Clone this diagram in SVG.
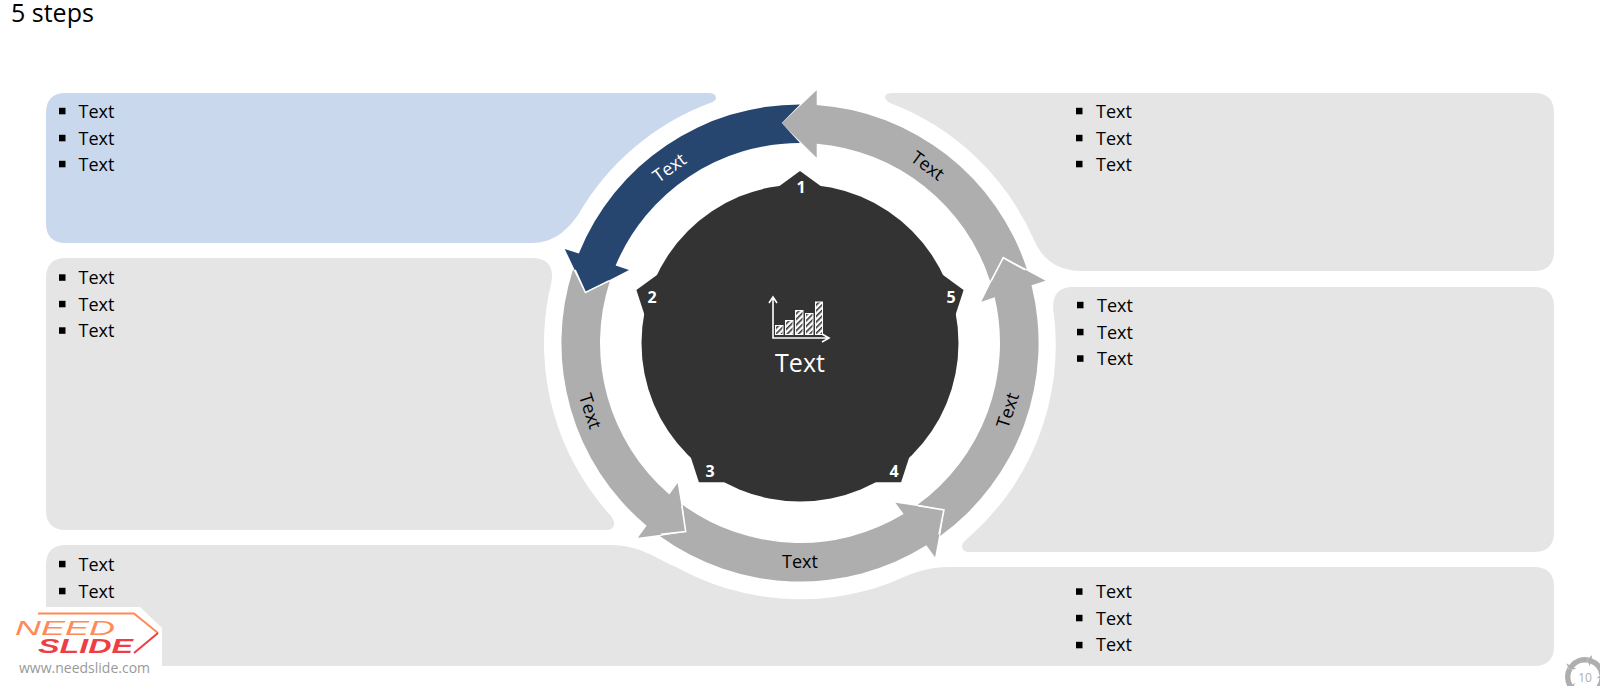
<svg xmlns="http://www.w3.org/2000/svg" xmlns:xlink="http://www.w3.org/1999/xlink" width="1600" height="686" viewBox="0 0 1600 686">
<style>
text{font-family:"Open Sans","Noto Sans","Liberation Sans",sans-serif}
.p{fill:#e5e5e5}
.b{font-size:18px;fill:#000}
.a{fill:#aeaeae}
.e{fill:none;stroke:#fff;stroke-width:1.6}
.l{font-size:18px;fill:#000;text-anchor:middle;dominant-baseline:central}
.n{font-size:16px;font-weight:700;fill:#fff;text-anchor:middle;dominant-baseline:central}
</style>
<defs>
<path id="arrow" d="M781.7,123.3 L816.7,90.2 V105 A238.6,238.6 0 0 1 1026.9,269.3 L1003.6,257.6 L990.2,281.2 A200,200 0 0 0 816.7,143.7 V157.8 Z"/>
<path id="edge" d="M800,106.5 L781.7,123.3 L800,142"/>
<path id="small" d="M-1.8,-17.2 L2.5,-23 V-19.8 A20,20 0 0 1 19,-6.2 L15.8,-7 L13.8,-4.5 A14.5,14.5 0 0 0 2.5,-14.3 V-11.5 Z"/>
<rect id="bu" x="0" y="-3.2" width="6.5" height="6.5" fill="#000"/>
<pattern id="h" width="4" height="4" patternUnits="userSpaceOnUse" patternTransform="rotate(45)">
<rect width="4" height="4" fill="#fff"/><rect width="1.6" height="4" fill="#333"/>
</pattern>
</defs>
<rect width="1600" height="686" fill="#fff"/>
<text x="11" y="22" font-size="25" fill="#000">5 steps</text>

<g id="panel-1">
<path d="M66,93 H708 Q716,93 716,98 Q716,101 710,103 A256,256 0 0 0 578,215 C566,232 552,243 532,243 H66 Q46,243 46,223 V113 Q46,93 66,93 Z" fill="#c9d8ec"/>
<use xlink:href="#bu" href="#bu" x="59" y="111"/><use xlink:href="#bu" href="#bu" x="59" y="138"/><use xlink:href="#bu" href="#bu" x="59" y="164"/>
<text class="b" x="78.5" y="117.5">Text</text><text class="b" x="78.5" y="144.5">Text</text><text class="b" x="78.5" y="170.5">Text</text>
</g>
<g id="panel-2">
<path class="p" d="M66,258 H532 Q553,258 552,278 Q551,285 549,293 A256,256 0 0 0 611,516 Q615,522 614,525 Q613,530 606,530 H66 Q46,530 46,510 V278 Q46,258 66,258 Z"/>
<use xlink:href="#bu" href="#bu" x="59" y="277.5"/><use xlink:href="#bu" href="#bu" x="59" y="304"/><use xlink:href="#bu" href="#bu" x="59" y="330.5"/>
<text class="b" x="78.5" y="284">Text</text><text class="b" x="78.5" y="310.5">Text</text><text class="b" x="78.5" y="337">Text</text>
</g>
<g id="panel-3-4">
<path class="p" d="M66,545 H610 C640,545 655,558 676,567 A256,256 0 0 0 890,583 C910,574 925,567 950,567 H1534 Q1554,567 1554,587 V646 Q1554,666 1534,666 H66 Q46,666 46,646 V565 Q46,545 66,545 Z"/>
<use xlink:href="#bu" href="#bu" x="59" y="564"/><use xlink:href="#bu" href="#bu" x="59" y="591"/>
<text class="b" x="78.5" y="570.5">Text</text><text class="b" x="78.5" y="597.5">Text</text>
<use xlink:href="#bu" href="#bu" x="1076" y="591.5"/><use xlink:href="#bu" href="#bu" x="1076" y="618"/><use xlink:href="#bu" href="#bu" x="1076" y="645"/>
<text class="b" x="1096" y="598">Text</text><text class="b" x="1096" y="624.5">Text</text><text class="b" x="1096" y="651">Text</text>
</g>
<g id="panel-5">
<path class="p" d="M1073,287 H1534 Q1554,287 1554,307 V532 Q1554,552 1534,552 H970 Q962,552 962,546 Q962,543 968,538 A256,256 0 0 0 1054,315 Q1053,310 1053,307 Q1053,287 1073,287 Z"/>
<use xlink:href="#bu" href="#bu" x="1077" y="305"/><use xlink:href="#bu" href="#bu" x="1077" y="332"/><use xlink:href="#bu" href="#bu" x="1077" y="358.5"/>
<text class="b" x="1097" y="311.5">Text</text><text class="b" x="1097" y="338.5">Text</text><text class="b" x="1097" y="365">Text</text>
</g>
<g id="panel-6">
<path class="p" d="M893,93 H1534 Q1554,93 1554,113 V251 Q1554,271 1534,271 H1082 C1056,271 1042,258 1034,240 A256,256 0 0 0 890,103 Q885,100 885,97 Q885,93 893,93 Z"/>
<use xlink:href="#bu" href="#bu" x="1076" y="111"/><use xlink:href="#bu" href="#bu" x="1076" y="138"/><use xlink:href="#bu" href="#bu" x="1076" y="164"/>
<text class="b" x="1096" y="117.5">Text</text><text class="b" x="1096" y="144.5">Text</text><text class="b" x="1096" y="170.5">Text</text>
</g>

<g id="connectors">
<g id="arrow-right"><use xlink:href="#arrow" href="#arrow" class="a"/><text class="l" transform="translate(928,165) rotate(36)">Text</text></g>
<g id="arrow-lower-right"><use xlink:href="#arrow" href="#arrow" class="a" transform="rotate(72 800 343)"/><use xlink:href="#edge" href="#edge" class="e" transform="rotate(72 800 343)"/><text class="l" transform="translate(1007,410) rotate(-72)">Text</text></g>
<g id="arrow-bottom"><use xlink:href="#arrow" href="#arrow" class="a" transform="rotate(144 800 343)"/><use xlink:href="#edge" href="#edge" class="e" transform="rotate(144 800 343)"/><text class="l" x="800" y="561">Text</text></g>
<g id="arrow-left"><use xlink:href="#arrow" href="#arrow" class="a" transform="rotate(216 800 343)"/><use xlink:href="#edge" href="#edge" class="e" transform="rotate(216 800 343)"/><text class="l" transform="translate(591,411) rotate(72)">Text</text></g>
<g id="arrow-blue"><use xlink:href="#arrow" href="#arrow" class="a" style="fill:#27466f" transform="rotate(288 800 343)"/><use xlink:href="#edge" href="#edge" class="e" transform="rotate(288 800 343)"/><text class="l" style="fill:#fff" transform="translate(669,167) rotate(-36)">Text</text></g>
</g>

<g id="hub">
<circle cx="800" cy="343" r="158.5" fill="#333"/>
<polygon points="800,171 963.6,290 901.1,482.3 698.9,482.3 636.4,290" fill="#333"/>
<text class="n" x="801" y="187">1</text><text class="n" x="652" y="296.5">2</text><text class="n" x="710" y="470.5">3</text><text class="n" x="894" y="470.5">4</text><text class="n" x="951" y="296.5">5</text>
<g fill="url(#h)" stroke="#fff" stroke-width="1">
<rect x="775.5" y="325.5" width="7.5" height="9"/><rect x="785.5" y="320.5" width="7.5" height="14"/><rect x="795.5" y="310.5" width="7.5" height="24"/><rect x="805.5" y="313.5" width="7.5" height="21"/><rect x="815.5" y="302" width="7" height="32.5"/>
</g>
<path d="M773,298 V338 H828 M769,303 L773,297 L777,303 M822,334 L829,338 L822,342" fill="none" stroke="#fff" stroke-width="1.6"/>
<text x="800" y="372" font-size="25" fill="#fff" text-anchor="middle">Text</text>
</g>

<g id="logo">
<polygon points="0,607 140,607 162,628 162,666 0,666" fill="#fff"/>
<path d="M38,613.5 H134 L158,633" fill="none" stroke="#ff8a57" stroke-width="2"/>
<path d="M158,633 L134,653" fill="none" stroke="#ee3d45" stroke-width="2"/>
<text x="15" y="635" font-size="21" font-style="italic" textLength="100" lengthAdjust="spacingAndGlyphs" fill="#ff8a57" style="font-family:'Liberation Sans',sans-serif">NEED</text>
<text x="38" y="653" font-size="20" font-style="italic" font-weight="700" textLength="95" lengthAdjust="spacingAndGlyphs" fill="#ee3d45" style="font-family:'Liberation Sans',sans-serif">SLIDE</text>
<text x="19" y="673" font-size="14" fill="#999">www.needslide.com</text>
</g>

<g id="page-number" fill="#aeaeae">
<use xlink:href="#small" href="#small" transform="translate(1585,677) rotate(12)"/>
<use xlink:href="#small" href="#small" transform="translate(1585,677) rotate(84)"/>
<use xlink:href="#small" href="#small" transform="translate(1585,677) rotate(156)"/>
<use xlink:href="#small" href="#small" transform="translate(1585,677) rotate(228)"/>
<use xlink:href="#small" href="#small" transform="translate(1585,677) rotate(300)"/>
<text x="1585" y="681.5" font-size="12" text-anchor="middle">10</text>
</g>
</svg>
